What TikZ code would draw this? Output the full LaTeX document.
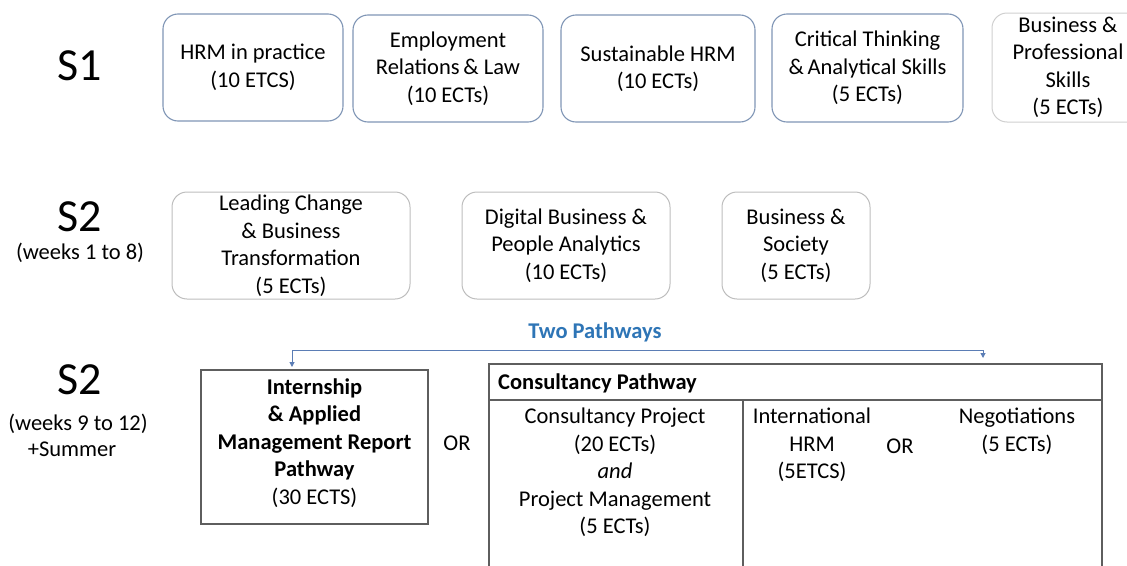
\documentclass[tikz,border=0pt]{standalone}
\usepackage{fontspec}
\setmainfont{Carlito}
\usetikzlibrary{arrows.meta}
\definecolor{sonebd}{HTML}{7F95B5}
\definecolor{stwobd}{HTML}{BDBDBD}
\definecolor{sfivebd}{HTML}{CFCFCF}
\definecolor{tablebd}{HTML}{5E5E5E}
\definecolor{pathblue}{HTML}{2E75B6}
\definecolor{linkblue}{HTML}{5B7DB5}
\tikzset{
  txt/.style={font=\fontsize{22.5}{27.5}\selectfont, align=center, inner sep=0pt},
  big/.style={font=\fontsize{46}{50}\selectfont, inner sep=0pt},
  sonebox/.style={txt, draw=sonebd, line width=1.1pt, rounded corners=15pt},
  stwobox/.style={txt, draw=stwobd, line width=1pt, rounded corners=15pt},
  tbl/.style={draw=tablebd, line width=1.2pt},
  link/.style={draw=linkblue, line width=1pt, {Triangle[width=5pt,length=5pt]}-{Triangle[width=5pt,length=5pt]}}
}
\begin{document}
\begin{tikzpicture}[x=1pt,y=-1pt]
\useasboundingbox (0,0) rectangle (1127,565);
% left labels
\node[big] (s1) at (80,66) {S1};
\node[big] (s2a) at (80,217) {S2};
\node[txt] (w18) at (80,253) {(weeks 1 to 8)};
\node[big] (s2b) at (80,380) {S2};
\node[txt] (w912) at (78,424) {(weeks 9 to 12)};
\node[txt] (summer) at (72,449) {+Summer};
% S1 modules
\node[sonebox, minimum width=180pt, minimum height=107pt] (hrm) at (253,67.5) {HRM in practice\\(10 ETCS)};
\node[sonebox, minimum width=190pt, minimum height=107pt] (emp) at (448,68.5) {Employment\\Relations\,\& Law\\(10 ECTs)};
\node[sonebox, minimum width=194pt, minimum height=107pt] (sus) at (658,68.5) {Sustainable HRM\\(10 ECTs)};
\node[sonebox, minimum width=191pt, minimum height=108pt] (crit) at (867.5,68) {Critical Thinking\\\&\,Analytical Skills\\(5 ECTs)};
\node[txt, draw=sfivebd, line width=1pt, rounded corners=15pt, minimum width=152pt, minimum height=109pt] (bps) at (1068,67.5) {Business \&\\Professional\\Skills\\(5 ECTs)};
% S2 modules
\node[stwobox, minimum width=238pt, minimum height=107pt] (lead) at (291,245.5) {Leading Change\\\& Business\\Transformation\\(5 ECTs)};
\node[stwobox, minimum width=208pt, minimum height=107pt] (dig) at (566,245.5) {Digital Business \&\\People Analytics\\(10 ECTs)};
\node[stwobox, minimum width=148pt, minimum height=107pt] (soc) at (796,245.5) {Business \&\\Society\\(5 ECTs)};
% pathways
\node[txt, font=\fontsize{22.5}{27.5}\selectfont\bfseries, text=pathblue] (two) at (595,332) {Two Pathways};
\node[txt, draw=tablebd, line width=1.2pt, minimum width=227pt, minimum height=154pt] (intern) at (314.5,447) {};
\node[txt] (interntxt) at (314.5,443) {\textbf{Internship}\\\textbf{\& Applied}\\\textbf{Management Report}\\\textbf{Pathway}\\(30 ECTS)};
\node[txt] (or1) at (457,443) {OR};
% consultancy table
\coordinate (ctl) at (489,364);
\coordinate (ctr) at (1102,364);
\coordinate (chl) at (489,400);
\coordinate (chr) at (1102,400);
\coordinate (cbl) at (489,570);
\coordinate (cbr) at (1102,570);
\coordinate (dvt) at (743,400);
\coordinate (dvb) at (743,570);
\draw[tbl] (cbl) -- (ctl) -- (ctr) -- (cbr);
\draw[tbl] (chl) -- (chr);
\draw[tbl] (dvt) -- (dvb);
\node[txt, anchor=west, font=\fontsize{22.5}{27.5}\selectfont\bfseries] (conshead) at (498,383) {Consultancy Pathway};
\node[txt, anchor=north] (cproj) at (615,408) {Consultancy Project\\(20 ECTs)\\\textit{and}\\Project Management\\(5 ECTs)};
\node[txt, anchor=north] (ihrm) at (812,408) {International\\HRM\\(5ETCS)};
\node[txt] (or2) at (900,446) {OR};
\node[txt, anchor=north] (neg) at (1017,408) {Negotiations\\(5 ECTs)};
% connector
\coordinate (tL) at (292,367);
\coordinate (jL) at (292,350);
\coordinate (jR) at (983,350);
\coordinate (tR) at (983,358);
\draw[link] (tL) -- (jL) -- (jR) -- (tR);
\end{tikzpicture}
\end{document}
